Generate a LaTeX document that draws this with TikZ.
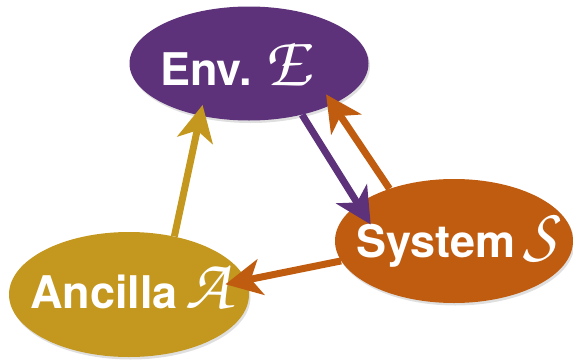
\documentclass[tikz,border=0pt]{standalone}
\usepackage{fontspec}
\setmainfont{TeX Gyre Heros}
\usepackage{tikz}
\usetikzlibrary{arrows.meta,shapes.geometric,shadows}
\definecolor{envpurple}{RGB}{94,50,122}
\definecolor{sysorange}{RGB}{191,92,15}
\definecolor{ancgold}{RGB}{196,152,30}
\DeclareMathAlphabet{\mathpzc}{OT1}{pzc}{m}{it}
\newcommand{\calsym}[1]{{\fontsize{72}{72}\selectfont$\mathpzc{#1}$}}

\begin{document}
\begin{tikzpicture}[x=1pt, y=1pt,
      blob/.style={ellipse, inner sep=0pt,
        drop shadow={opacity=0.25, shadow xshift=1.5pt, shadow yshift=-2.5pt}},
      tag/.style={anchor=base, inner sep=0pt, text=white, font=\bfseries\fontsize{45}{50}\selectfont},
      flow/.style={line width=7pt, -{Stealth[length=36pt, width=36pt, inset=10pt]}}
    ]
      \useasboundingbox (0,0) rectangle (573,360);

      % the three parties
      \node[blob, fill=envpurple, minimum width=239pt, minimum height=114pt] (env) at (249,296.5) {};
      \node[blob, fill=sysorange, minimum width=238pt, minimum height=124pt] (sys) at (454,119) {};
      \node[blob, fill=ancgold, minimum width=240pt, minimum height=125pt] (anc) at (129,65.5) {};

      \node[tag] (envtxt) at (238,275) {Env.\ \calsym{E}};
      \node[tag] (systxt) at (460,103) {System\,\calsym{S}};
      \node[tag] (anctxt) at (133,52) {Ancilla\,\calsym{A}};

      % interactions
      \draw[flow, draw=ancgold, shorten >=-11pt] (anc.52) -- (env.227);
      \draw[flow, draw=envpurple, shorten >=-24pt] (env.316) -- (sys.159);
      \draw[flow, draw=sysorange, shorten >=-12pt] (sys.141) -- (env.-26);
      \draw[flow, draw=sysorange, shorten >=-21pt] (sys.190) -- (anc.7.5);
    \end{tikzpicture}
\end{document}
